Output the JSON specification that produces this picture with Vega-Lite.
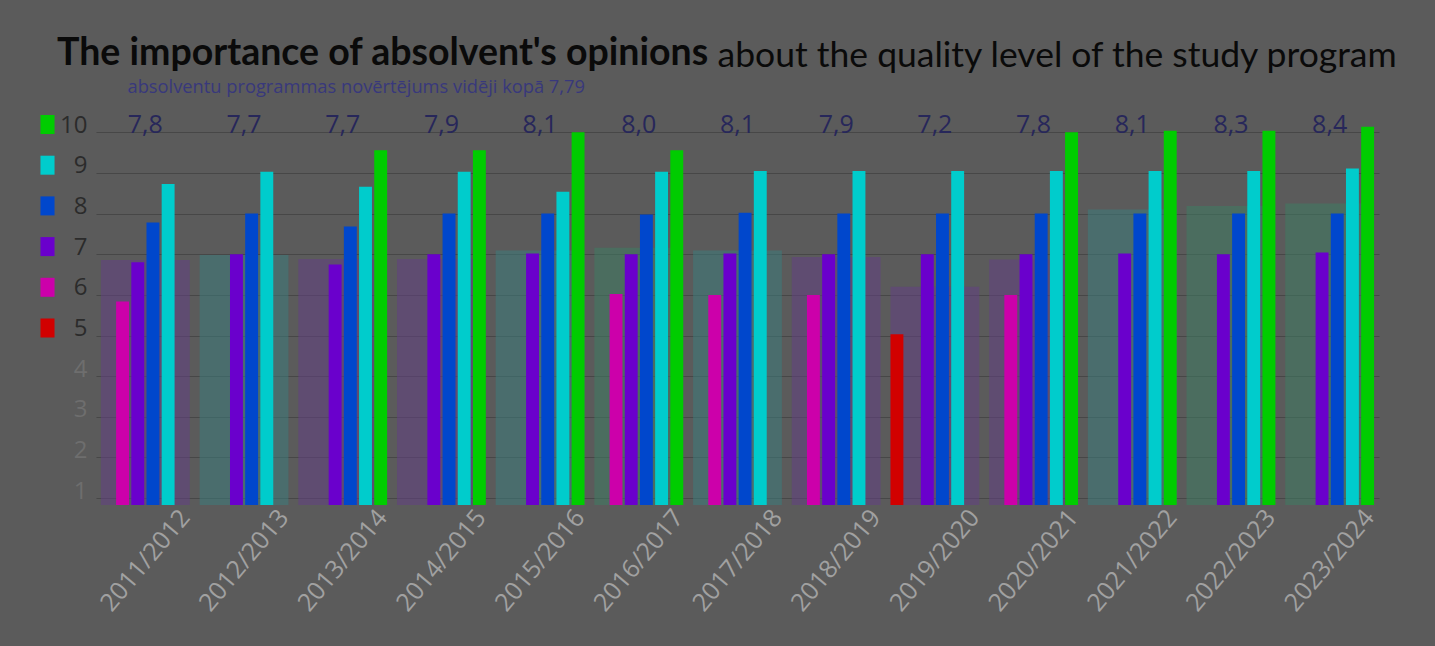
{
  "$schema": "https://vega.github.io/schema/vega-lite/v6.json",
  "width": 1283,
  "height": 393,
  "autosize": {"type": "none"},
  "padding": {"left": 96, "top": 112, "right": 56, "bottom": 141},
  "background": "#5b5b5b",
  "config": {
    "view": {"stroke": null},
    "locale": {"number": {"decimal": ",", "thousands": " ", "grouping": [3], "currency": ["", " €"]}}
  },
  "title": {
    "text": "The importance of absolvent's opinions",
    "anchor": "start",
    "frame": "group",
    "dx": -39,
    "offset": -64,
    "baseline": "alphabetic",
    "font": "Lato",
    "fontSize": 37.5,
    "fontWeight": "bold",
    "color": "#0a0a0a"
  },
  "datasets": {
    "years": [
      {"year": "2011/2012", "avg": 7.8, "bg": 6.86, "tone": "purple"},
      {"year": "2012/2013", "avg": 7.7, "bg": 6.98, "tone": "teal"},
      {"year": "2013/2014", "avg": 7.7, "bg": 6.88, "tone": "purple"},
      {"year": "2014/2015", "avg": 7.9, "bg": 6.88, "tone": "purple"},
      {"year": "2015/2016", "avg": 8.1, "bg": 7.09, "tone": "teal"},
      {"year": "2016/2017", "avg": 8.0, "bg": 7.16, "tone": "green"},
      {"year": "2017/2018", "avg": 8.1, "bg": 7.09, "tone": "teal"},
      {"year": "2018/2019", "avg": 7.9, "bg": 6.93, "tone": "purple"},
      {"year": "2019/2020", "avg": 7.2, "bg": 6.2, "tone": "purple"},
      {"year": "2020/2021", "avg": 7.8, "bg": 6.87, "tone": "purple"},
      {"year": "2021/2022", "avg": 8.1, "bg": 8.1, "tone": "teal"},
      {"year": "2022/2023", "avg": 8.3, "bg": 8.19, "tone": "green"},
      {"year": "2023/2024", "avg": 8.4, "bg": 8.25, "tone": "green"}
    ],
    "scores": [
      {"year": "2011/2012", "score": 6, "value": 5.84},
      {"year": "2011/2012", "score": 7, "value": 6.8},
      {"year": "2011/2012", "score": 8, "value": 7.78},
      {"year": "2011/2012", "score": 9, "value": 8.73},
      {"year": "2012/2013", "score": 7, "value": 7.0},
      {"year": "2012/2013", "score": 8, "value": 8.0},
      {"year": "2012/2013", "score": 9, "value": 9.03},
      {"year": "2013/2014", "score": 7, "value": 6.75},
      {"year": "2013/2014", "score": 8, "value": 7.68},
      {"year": "2013/2014", "score": 9, "value": 8.66},
      {"year": "2013/2014", "score": 10, "value": 9.56},
      {"year": "2014/2015", "score": 7, "value": 7.0},
      {"year": "2014/2015", "score": 8, "value": 8.0},
      {"year": "2014/2015", "score": 9, "value": 9.03},
      {"year": "2014/2015", "score": 10, "value": 9.56},
      {"year": "2015/2016", "score": 7, "value": 7.02},
      {"year": "2015/2016", "score": 8, "value": 8.0},
      {"year": "2015/2016", "score": 9, "value": 8.54},
      {"year": "2015/2016", "score": 10, "value": 10.0},
      {"year": "2016/2017", "score": 6, "value": 6.02},
      {"year": "2016/2017", "score": 7, "value": 7.0},
      {"year": "2016/2017", "score": 8, "value": 7.98},
      {"year": "2016/2017", "score": 9, "value": 9.03},
      {"year": "2016/2017", "score": 10, "value": 9.56},
      {"year": "2017/2018", "score": 6, "value": 6.0},
      {"year": "2017/2018", "score": 7, "value": 7.02},
      {"year": "2017/2018", "score": 8, "value": 8.02},
      {"year": "2017/2018", "score": 9, "value": 9.05},
      {"year": "2018/2019", "score": 6, "value": 6.0},
      {"year": "2018/2019", "score": 7, "value": 7.0},
      {"year": "2018/2019", "score": 8, "value": 8.0},
      {"year": "2018/2019", "score": 9, "value": 9.05},
      {"year": "2019/2020", "score": 5, "value": 5.03},
      {"year": "2019/2020", "score": 7, "value": 7.0},
      {"year": "2019/2020", "score": 8, "value": 8.0},
      {"year": "2019/2020", "score": 9, "value": 9.05},
      {"year": "2020/2021", "score": 6, "value": 6.0},
      {"year": "2020/2021", "score": 7, "value": 7.0},
      {"year": "2020/2021", "score": 8, "value": 8.0},
      {"year": "2020/2021", "score": 9, "value": 9.05},
      {"year": "2020/2021", "score": 10, "value": 10.0},
      {"year": "2021/2022", "score": 7, "value": 7.02},
      {"year": "2021/2022", "score": 8, "value": 8.0},
      {"year": "2021/2022", "score": 9, "value": 9.05},
      {"year": "2021/2022", "score": 10, "value": 10.04},
      {"year": "2022/2023", "score": 7, "value": 7.0},
      {"year": "2022/2023", "score": 8, "value": 8.0},
      {"year": "2022/2023", "score": 9, "value": 9.05},
      {"year": "2022/2023", "score": 10, "value": 10.04},
      {"year": "2023/2024", "score": 7, "value": 7.04},
      {"year": "2023/2024", "score": 8, "value": 8.0},
      {"year": "2023/2024", "score": 9, "value": 9.11},
      {"year": "2023/2024", "score": 10, "value": 10.14}
    ]
  },
  "layer": [
    {
      "data": {"name": "years"},
      "mark": {"type": "bar", "opacity": 0.55},
      "encoding": {
        "x": {
          "field": "year",
          "type": "nominal",
          "scale": {"paddingInner": 0.1, "paddingOuter": 0.05},
          "axis": {
            "title": "about the quality level of the study program",
            "titleX": 621,
            "titleY": -438.3,
            "titleAlign": "left",
            "titleBaseline": "alphabetic",
            "titleAngle": 0,
            "titleFont": "Lato",
            "titleFontSize": 35.5,
            "titleFontWeight": "normal",
            "titleColor": "#0a0a0a",
            "labelAngle": -50,
            "labelAlign": "center",
            "labelBaseline": "middle",
            "labelFont": "Open Sans",
            "labelFontSize": 25,
            "labelColor": "#a1a1a1",
            "labelPadding": 55,
            "ticks": false,
            "domain": false
          }
        },
        "y": {
          "field": "bg",
          "type": "quantitative",
          "scale": {"domain": [0.83, 10.5], "zero": false, "nice": false, "clamp": true},
          "axis": {
            "title": "absolventu programmas novērtējums vidēji kopā 7,79",
            "titleAngle": 0,
            "titleX": 31,
            "titleY": -20,
            "titleAlign": "left",
            "titleBaseline": "alphabetic",
            "titleFont": "Open Sans",
            "titleFontSize": 18.3,
            "titleFontWeight": "normal",
            "titleColor": "#38387c",
            "values": [1, 2, 3, 4, 5, 6, 7, 8, 9, 10],
            "grid": true,
            "gridColor": "#474747",
            "gridWidth": 1,
            "domain": false,
            "ticks": false,
            "labelFont": "Open Sans",
            "labelFontSize": 24,
            "labelBaseline": "alphabetic",
            "labelPadding": 9,
            "labelColor": {"condition": {"test": "datum.value >= 5", "value": "#2b2b2b"}, "value": "#6e6e6e"}
          }
        },
        "fill": {
          "field": "tone",
          "type": "nominal",
          "scale": {"domain": ["purple", "teal", "green"], "range": ["#633f83", "#3d7b7b", "#3e7b62"]},
          "legend": null
        }
      }
    },
    {
      "data": {"name": "scores"},
      "mark": {"type": "bar"},
      "encoding": {
        "x": {"field": "year", "type": "nominal"},
        "xOffset": {"field": "score", "type": "nominal", "scale": {"domain": [5, 6, 7, 8, 9, 10], "paddingInner": 0.15}},
        "y": {"field": "value", "type": "quantitative", "scale": {"domain": [0.83, 10.5], "zero": false, "nice": false, "clamp": true}},
        "color": {
          "field": "score",
          "type": "nominal",
          "scale": {"domain": [10, 9, 8, 7, 6, 5], "range": ["#00cc00", "#00cccc", "#0047cc", "#6a00cc", "#cc00aa", "#d10000"]},
          "legend": {
            "orient": "none",
            "legendX": -58,
            "legendY": 3,
            "title": null,
            "direction": "vertical",
            "symbolType": "M-0.74,-1H0.74V1H-0.74Z",
            "symbolSize": 361,
            "symbolStrokeWidth": 0,
            "symbolOpacity": 1,
            "labelExpr": "''",
            "labelFontSize": 1,
            "rowPadding": 21.7,
            "padding": 0
          }
        }
      }
    },
    {
      "data": {"name": "years"},
      "mark": {"type": "text", "baseline": "alphabetic", "font": "Open Sans", "fontSize": 25, "color": "#27275a", "dy": 1},
      "encoding": {
        "x": {"field": "year", "type": "nominal"},
        "y": {"datum": 10, "scale": {"domain": [0.83, 10.5], "zero": false, "nice": false, "clamp": true}},
        "text": {"field": "avg", "type": "quantitative", "format": ".1f"}
      }
    }
  ]
}
